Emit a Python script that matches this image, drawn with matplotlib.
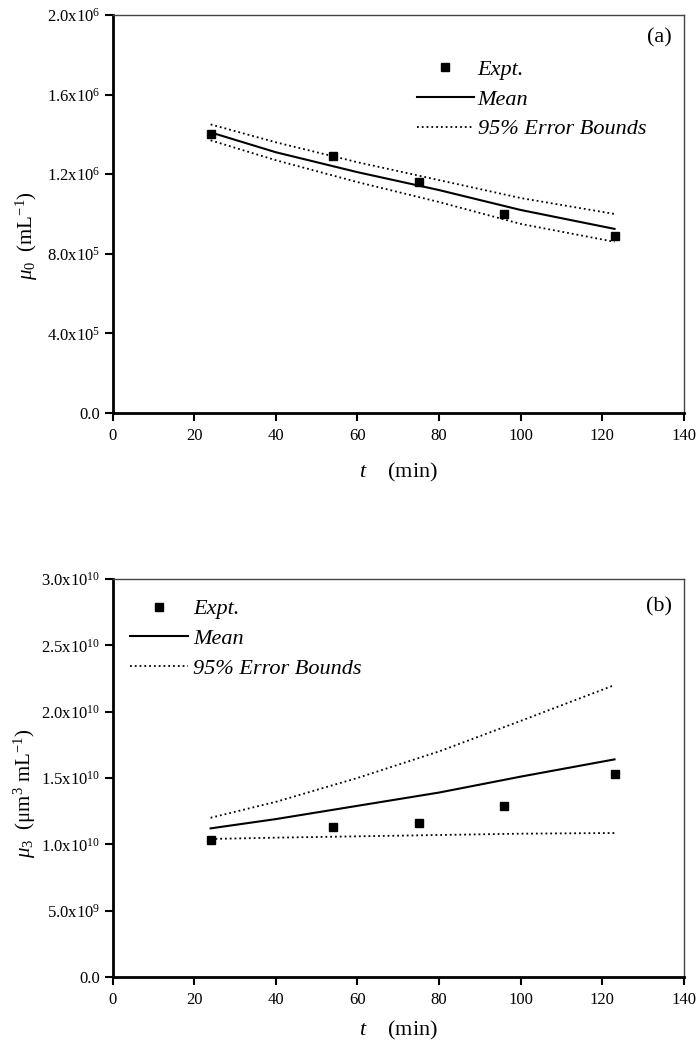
import matplotlib
matplotlib.use("Agg")
import matplotlib.pyplot as plt
from matplotlib.ticker import FixedLocator, FixedFormatter

plt.rcParams["font.family"] = ["Liberation Serif", "DejaVu Serif"]
plt.rcParams["mathtext.fontset"] = "custom"
plt.rcParams["mathtext.rm"] = "Liberation Serif"
plt.rcParams["mathtext.it"] = "Liberation Serif:italic"

# panel (a): mu_0
t_expt = [24, 54, 75, 96, 123]
mu0_expt = [1.40e6, 1.29e6, 1.16e6, 1.00e6, 0.89e6]
t_model = [24, 40, 60, 80, 100, 123]
mu0_mean = [1.41e6, 1.31e6, 1.21e6, 1.12e6, 1.02e6, 0.925e6]
mu0_upper = [1.45e6, 1.36e6, 1.26e6, 1.17e6, 1.08e6, 1.00e6]
mu0_lower = [1.37e6, 1.27e6, 1.16e6, 1.06e6, 0.95e6, 0.86e6]

# panel (b): mu_3
mu3_expt = [1.03e10, 1.13e10, 1.16e10, 1.29e10, 1.53e10]
mu3_mean = [1.12e10, 1.19e10, 1.29e10, 1.39e10, 1.51e10, 1.64e10]
mu3_upper = [1.20e10, 1.32e10, 1.50e10, 1.70e10, 1.93e10, 2.20e10]
mu3_lower = [1.04e10, 1.05e10, 1.06e10, 1.07e10, 1.08e10, 1.085e10]

x_ticks = [0, 20, 40, 60, 80, 100, 120, 140]
a_ticks = [0, 4e5, 8e5, 1.2e6, 1.6e6, 2.0e6]
a_labels = ["0.0", r"4.0x10$^{5}$", r"8.0x10$^{5}$", r"1.2x10$^{6}$", r"1.6x10$^{6}$", r"2.0x10$^{6}$"]
b_ticks = [0, 5e9, 1.0e10, 1.5e10, 2.0e10, 2.5e10, 3.0e10]
b_labels = ["0.0", r"5.0x10$^{9}$", r"1.0x10$^{10}$", r"1.5x10$^{10}$", r"2.0x10$^{10}$",
            r"2.5x10$^{10}$", r"3.0x10$^{10}$"]


def style_axes(ax, yticks, ylabels, ymax, xlabelpad):
    ax.set_xlim(0, 140)
    ax.set_ylim(0, ymax)
    ax.xaxis.set_major_locator(FixedLocator(x_ticks))
    ax.yaxis.set_major_locator(FixedLocator(yticks))
    ax.yaxis.set_major_formatter(FixedFormatter(ylabels))
    ax.tick_params(direction="out", length=6, width=1.5, labelsize=12, colors="black")
    ax.tick_params(axis="x", pad=5)
    ax.tick_params(axis="y", pad=3)
    for side in ("left", "bottom"):
        ax.spines[side].set_linewidth(2.0)
    for side in ("top", "right"):
        ax.spines[side].set_linewidth(1.0)
        ax.spines[side].set_color("#444444")
    ax.set_xlabel(r"$t$    (min)", fontsize=16, labelpad=xlabelpad)


fig = plt.figure(figsize=(7.0, 10.45), dpi=100)
ax1 = fig.add_axes([0.161, 0.6048, 0.816, 0.3809])
ax2 = fig.add_axes([0.161, 0.0651, 0.816, 0.3809])

for ax, expt, mean, upper, lower in [(ax1, mu0_expt, mu0_mean, mu0_upper, mu0_lower),
                                     (ax2, mu3_expt, mu3_mean, mu3_upper, mu3_lower)]:
    ax.plot(t_expt, expt, "s", color="black", markersize=5.5, label="Expt.")
    ax.plot(t_model, mean, "-", color="black", lw=1.5, label="Mean")
    ax.plot(t_model, upper, ":", color="black", lw=1.3, label="95% Error Bounds")
    ax.plot(t_model, lower, ":", color="black", lw=1.3)

style_axes(ax1, a_ticks, a_labels, 2.0e6, 12)
style_axes(ax2, b_ticks, b_labels, 3.0e10, 8)

ax1.set_ylabel(r"$\mu_0$  (mL$^{-1}$)", fontsize=15)
ax2.set_ylabel(r"$\mu_3$  ($\mathrm{\mu}$m$^{3}$ mL$^{-1}$)", fontsize=15)
ax1.yaxis.set_label_coords(-0.128, 0.447)
ax2.yaxis.set_label_coords(-0.130, 0.462)

leg_kw = dict(frameon=False, prop={"family": "Liberation Serif", "style": "italic", "size": 16},
              handlelength=2.6, labelspacing=0.42, borderpad=0, borderaxespad=0)
ax1.legend(loc="upper left", bbox_to_anchor=(0.532, 0.889), handletextpad=0.15, **leg_kw)
ax2.legend(loc="upper left", bbox_to_anchor=(0.030, 0.950), handletextpad=0.25, **leg_kw)

ax1.text(0.979, 0.967, "(a)", transform=ax1.transAxes, ha="right", va="top", fontsize=16)
ax2.text(0.979, 0.955, "(b)", transform=ax2.transAxes, ha="right", va="top", fontsize=16)

fig.savefig("out.png", dpi=100)
